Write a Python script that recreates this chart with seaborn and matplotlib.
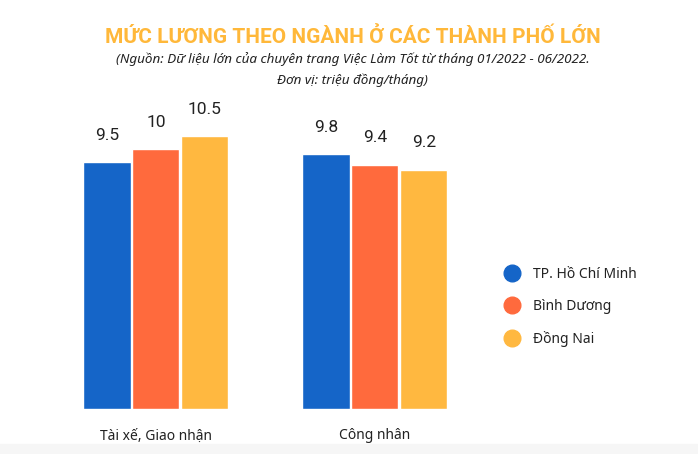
import pandas as pd
import seaborn as sns
import matplotlib.pyplot as plt
from matplotlib.lines import Line2D
from matplotlib.patches import Rectangle

# data
nganh = ["Tài xế, Giao nhận", "Công nhân"]
thanh_pho = ["TP. Hồ Chí Minh", "Bình Dương", "Đồng Nai"]
luong_hcm = [9.5, 9.8]
luong_bd = [10, 9.4]
luong_dn = [10.5, 9.2]
mau = ["#1565C8", "#FF6A3D", "#FFB840"]

rows = []
for i, n in enumerate(nganh):
    for tp, vals in zip(thanh_pho, [luong_hcm, luong_bd, luong_dn]):
        rows.append({"nganh": n, "tp": tp, "luong": vals[i]})
df = pd.DataFrame(rows)

sns.set_style("white")
plt.rcParams["font.family"] = ["Noto Sans", "DejaVu Sans"]

fig = plt.figure(figsize=(6.98, 4.54), dpi=100)
fig.patches.append(Rectangle((0, 0), 1, 10 / 454, transform=fig.transFigure,
                             color="#F6F6F6", zorder=-5))
ax = fig.add_axes([0.0666, 0.0991, 0.6275, 0.687])

sns.barplot(data=df, x="nganh", y="luong", hue="tp", hue_order=thanh_pho,
            palette=mau, width=0.671, gap=0.04, saturation=1, legend=False, ax=ax)

for c in ax.containers:
    ax.bar_label(c, fmt="{:g}", padding=14, fontsize=12.5, color="#222222",
                 family="Roboto")

ax.set_xlim(-0.5, 1.5)
ax.set_ylim(0, 12)
ax.set_xlabel("")
ax.set_ylabel("")
ax.set_yticks([])
ax.tick_params(axis="x", length=0, pad=14, labelsize=10, labelcolor="#222222")
sns.despine(ax=ax, left=True, bottom=True)

# tieu de
fig.text(0.505, 1 - 37 / 454, "MỨC LƯƠNG THEO NGÀNH Ở CÁC THÀNH PHỐ LỚN",
         ha="center", va="center", fontsize=15, fontweight="bold", color="#FFB83A",
         family=["Roboto", "DejaVu Sans"])
fig.text(0.505, 1 - 59 / 454,
         "(Nguồn: Dữ liệu lớn của chuyên trang Việc Làm Tốt từ tháng 01/2022 - 06/2022.",
         ha="center", va="center", fontsize=9.7, style="italic", color="#222222")
fig.text(0.505, 1 - 80 / 454, "Đơn vị: triệu đồng/tháng)",
         ha="center", va="center", fontsize=9.7, style="italic", color="#222222")

handles = [Line2D([0], [0], marker="o", linestyle="", markersize=12,
                  markerfacecolor=m, markeredgecolor=m) for m in mau]
fig.legend(handles, thanh_pho, loc="center left",
           bbox_to_anchor=(486 / 698, 1 - 307 / 454), frameon=False,
           fontsize=10, labelspacing=1.2, handletextpad=0.5,
           labelcolor="#222222")

fig.savefig("out.png", dpi=100)
